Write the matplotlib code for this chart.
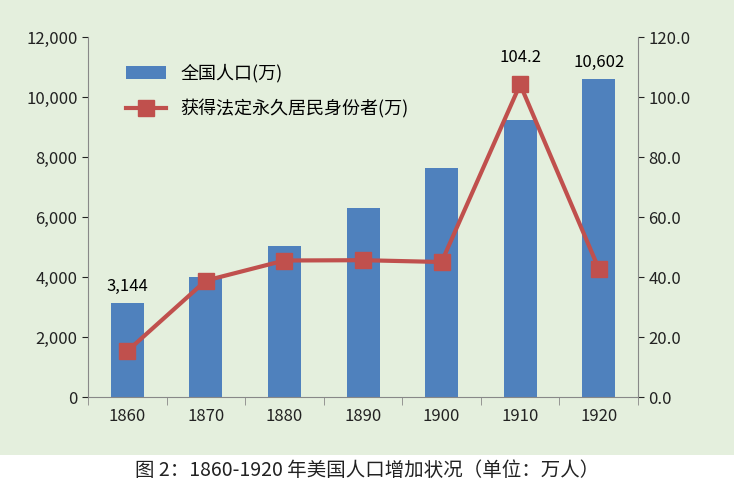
import matplotlib
matplotlib.use("Agg")
import matplotlib.pyplot as plt
from matplotlib.patches import Rectangle

plt.rcParams['font.family'] = ['Noto Sans CJK SC', 'DejaVu Sans']

years = ['1860', '1870', '1880', '1890', '1900', '1910', '1920']
population = [3144, 3990, 5030, 6300, 7620, 9230, 10602]
green_card = [15.3, 38.8, 45.5, 45.6, 45.0, 104.2, 42.8]

bg = '#e4efdd'
fig = plt.figure(figsize=(7.34, 4.84), dpi=100, facecolor='white')
fig.patches.append(Rectangle((0, 1-455/484), 1, 455/484, transform=fig.transFigure,
                             facecolor=bg, edgecolor='none', zorder=-10))
ax = fig.add_axes([88/734, 1-397/484, 550/734, 360/484], facecolor=bg)
x = range(len(years))
ax.bar(x, population, width=0.42, color='#4f81bd', label='全国人口(万)', zorder=2)
ax.set_ylim(0, 12000)
ax.set_xlim(-0.5, 6.5)
ax.set_yticks(range(0, 12001, 2000))
ax.set_yticklabels([f'{v:,}' for v in range(0, 12001, 2000)])
ax.set_xticks(list(x))
ax.set_xticklabels(years)
ax.grid(False)
for s in ['top', 'right']:
    ax.spines[s].set_visible(False)
for s in ['left', 'bottom']:
    ax.spines[s].set_color('#888888')
ax.tick_params(axis='both', labelsize=12, colors='#222222', length=4)
ax.tick_params(axis='x', pad=8)
ax.set_xticks([i + 0.5 for i in range(-1, 7)], minor=True)
ax.tick_params(axis='x', which='major', length=0)
ax.tick_params(axis='x', which='minor', length=6, color='#888888')
ax.text(0, population[0] + 250, f'{population[0]:,}', ha='center', va='bottom', fontsize=12)
ax.text(6, population[6] + 250, f'{population[6]:,}', ha='center', va='bottom', fontsize=12)

ax2 = ax.twinx()
ax2.set_ylim(0, 120)
ax2.set_yticks(range(0, 121, 20))
ax2.set_yticklabels([f'{v:.1f}' for v in range(0, 121, 20)])
ax2.plot(list(x), green_card, color='#c0504d', lw=3, marker='s', markersize=11,
         label='获得法定永久居民身份者(万)', zorder=3)
ax2.text(5, green_card[5] + 6, f'{green_card[5]}', ha='center', va='bottom', fontsize=12)
for s in ['top', 'left', 'bottom']:
    ax2.spines[s].set_visible(False)
ax2.spines['right'].set_color('#888888')
ax2.tick_params(axis='y', labelsize=12, colors='#222222', length=4)

h1, l1 = ax.get_legend_handles_labels()
h2, l2 = ax2.get_legend_handles_labels()
ax2.legend(h1 + h2, l1 + l2, loc='upper left', bbox_to_anchor=(0.04, 0.97),
           frameon=False, fontsize=13, handlelength=2.2, labelspacing=0.9)

fig.text(0.5, 1-470/484, '图 2：1860-1920 年美国人口增加状况（单位：万人）', ha='center', va='center',
         fontsize=14, color='#222222')
fig.savefig('out.png', dpi=100, facecolor='white')
